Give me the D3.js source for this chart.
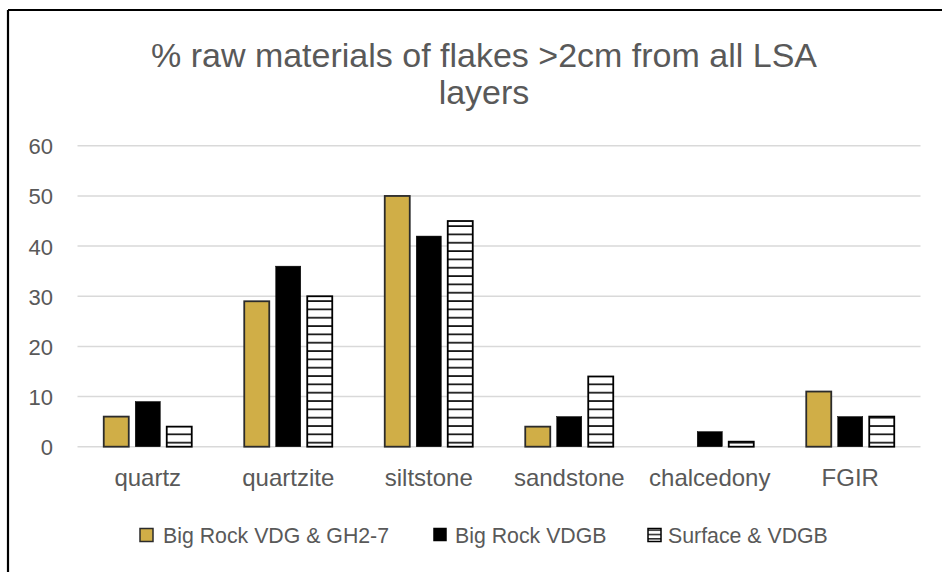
<!DOCTYPE html>
<html>
<head>
<meta charset="utf-8">
<script src="https://cdn.jsdelivr.net/npm/d3@7"></script>
<style>
  html, body { margin: 0; padding: 0; background: #fff; }
  svg { display: block; }
  text { font-family: "Liberation Sans", Arial, sans-serif; fill: #595959; }
</style>
</head>
<body>
<svg id="chart" width="942" height="572"></svg>
<script>
// Raw material categories along the x axis
const categories = ["quartz", "quartzite", "siltstone", "sandstone", "chalcedony", "FGIR"];
// Series names (legend order)
const seriesNames = ["Big Rock VDG & GH2-7", "Big Rock VDGB", "Surface & VDGB"];
// Percent values per series, in category order
const bigRockVDG = [6, 29, 50, 4, 0, 11];
const bigRockVDGB = [9, 36, 42, 6, 3, 6];
const surfaceVDGB = [4, 30, 45, 14, 1, 6];
// Y axis ticks
const yTicks = [0, 10, 20, 30, 40, 50, 60];

const seriesValues = [bigRockVDG, bigRockVDGB, surfaceVDGB];
const fills = ["#D0AE47", "#000000", "url(#hatch)"];

const svg = d3.select("#chart");
const W = 942, H = 572;

// Hatch pattern for the third series
const defs = svg.append("defs");
const pat = defs.append("pattern")
  .attr("id", "hatch")
  .attr("patternUnits", "userSpaceOnUse")
  .attr("width", 10).attr("height", 8.33)
  .attr("y", 0.2);
pat.append("rect").attr("width", 10).attr("height", 8.33).attr("fill", "#fff");
pat.append("line").attr("x1", 0).attr("x2", 10).attr("y1", 1).attr("y2", 1)
  .attr("stroke", "#000").attr("stroke-width", 1.6);

const legPat = defs.append("pattern")
  .attr("id", "hatchSmall")
  .attr("patternUnits", "userSpaceOnUse")
  .attr("width", 10).attr("height", 4.3)
  .attr("y", 0.5);
legPat.append("rect").attr("width", 10).attr("height", 4.3).attr("fill", "#fff");
legPat.append("line").attr("x1", 0).attr("x2", 10).attr("y1", 0.8).attr("y2", 0.8)
  .attr("stroke", "#000").attr("stroke-width", 1.3);

// Frame lines
svg.append("line").attr("x1", 8).attr("x2", W).attr("y1", 10).attr("y2", 10)
  .attr("stroke", "#000").attr("stroke-width", 2.2);
svg.append("line").attr("x1", 8).attr("x2", 8).attr("y1", 10).attr("y2", H)
  .attr("stroke", "#000").attr("stroke-width", 2.2);

// Title
const title = svg.append("text")
  .attr("text-anchor", "middle")
  .style("font-size", "34px");
title.append("tspan").attr("x", 484).attr("y", 67).text("% raw materials of flakes >2cm from all LSA");
title.append("tspan").attr("x", 484).attr("y", 104).text("layers");

// Scales
const x0 = d3.scaleBand().domain(categories).range([77.5, 920.5]).padding(0);
const y = d3.scaleLinear().domain([0, 60]).range([446.7, 145.8]);

// Gridlines
svg.append("g").selectAll("line").data(yTicks).join("line")
  .attr("x1", 77.5).attr("x2", 920.5)
  .attr("y1", d => y(d)).attr("y2", d => y(d))
  .attr("stroke", "#d9d9d9").attr("stroke-width", 1.5);

// Y axis labels
const yAxis = d3.axisLeft(y).tickValues(yTicks).tickSize(0).tickPadding(0);
const gy = svg.append("g").attr("transform", "translate(53,0)").call(yAxis);
gy.select(".domain").remove();
gy.selectAll("text")
  .style("font-size", "22px")
  .style("font-family", "'Liberation Sans', Arial, sans-serif")
  .attr("fill", "#595959")
  .attr("dy", "0.36em");

// X axis labels
const xAxis = d3.axisBottom(x0).tickSize(0).tickPadding(0);
const gx = svg.append("g").attr("transform", "translate(0,446.7)").call(xAxis);
gx.select(".domain").remove();
gx.selectAll("text")
  .style("font-size", "24px")
  .style("font-family", "'Liberation Sans', Arial, sans-serif")
  .attr("fill", "#595959")
  .attr("y", 0).attr("dy", 39);

// Bars
const groupW = 88;
const x1 = d3.scaleBand().domain(d3.range(seriesNames.length))
  .range([-groupW / 2, groupW / 2]).paddingInner(0.206);

const groups = svg.append("g").selectAll("g").data(categories).join("g")
  .attr("transform", d => `translate(${x0(d) + x0.bandwidth() / 2},0)`);

groups.selectAll("rect")
  .data((c, ci) => seriesValues.map((vals, si) => ({ si, v: vals[ci] })).filter(d => d.v > 0))
  .join("rect")
  .attr("x", d => x1(d.si))
  .attr("width", x1.bandwidth())
  .attr("y", d => y(d.v))
  .attr("height", d => y(0) - y(d.v))
  .attr("fill", d => fills[d.si])
  .attr("stroke", d => d.si === 0 ? "#2b2b2b" : "#000")
  .attr("stroke-width", d => d.si === 1 ? 0.5 : 1.8);

// Legend
const legendItems = [
  { x: 140, textX: 163 },
  { x: 434, textX: 455 },
  { x: 648, textX: 668 }
];
const legendFills = ["#D0AE47", "#000000", "url(#hatchSmall)"];
const lg = svg.append("g").selectAll("g").data(seriesNames).join("g");
lg.append("rect")
  .attr("x", (d, i) => legendItems[i].x)
  .attr("y", 528.5)
  .attr("width", (d, i) => i === 1 ? 12 : 13)
  .attr("height", (d, i) => i === 1 ? 12 : 13)
  .attr("fill", (d, i) => legendFills[i])
  .attr("stroke", (d, i) => i === 0 ? "#2b2b2b" : "#000")
  .attr("stroke-width", 1.5);
lg.append("text")
  .attr("x", (d, i) => legendItems[i].textX)
  .attr("y", 543)
  .style("font-size", "21.3px")
  .text(d => d);
</script>
</body>
</html>
